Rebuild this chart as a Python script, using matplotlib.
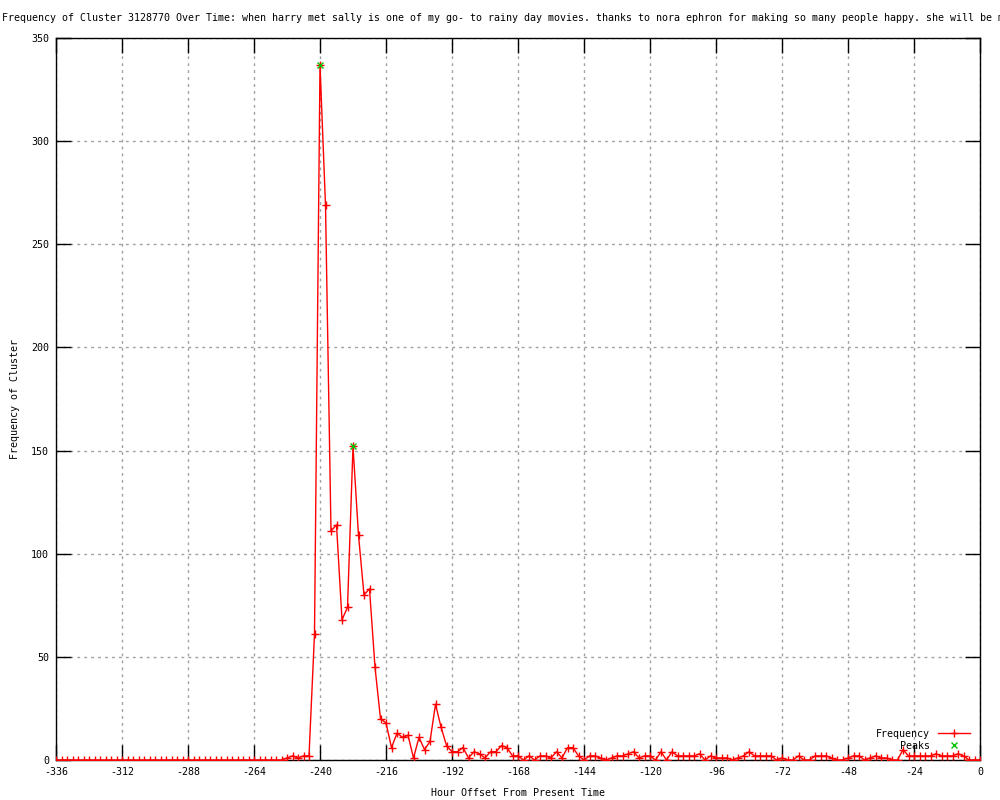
import matplotlib
matplotlib.use("Agg")
import matplotlib.pyplot as plt
import numpy as np

title = ("Frequency of Cluster 3128770 Over Time: when harry met sally is one of my go- to "
         "rainy day movies. thanks to nora ephron for making so many people happy. she will be missed.")
x_label = "Hour Offset From Present Time"
y_label = "Frequency of Cluster"

hours = list(range(-336, 1, 2))
frequency = [
    0, 0, 0, 0, 0, 0, 0, 0, 0, 0,
    0, 0, 0, 0, 0, 0, 0, 0, 0, 0,
    0, 0, 0, 0, 0, 0, 0, 0, 0, 0,
    0, 0, 0, 0, 0, 0, 0, 0, 0, 0,
    0, 0,
    1, 2, 1, 2, 2, 61, 337, 269, 111, 114,
    68, 74, 152, 109, 80, 83, 45, 20, 18, 6,
    13, 11, 12, 1, 11, 5, 9, 27, 16, 7,
    4, 4, 6, 1, 4, 3, 1, 4, 4, 7,
    6, 2, 2, 0, 2, 0, 2, 2, 1, 4,
    1, 6, 6, 2, 0, 2, 2, 1, 0, 1,
    2, 2, 3, 4, 1, 2, 2, 0, 4, 0,
    4, 2, 2, 2, 2, 3, 0, 2, 1, 1,
    1, 0, 1, 2, 4, 2, 2, 2, 2, 0,
    1, 0, 0, 2, 0, 0, 2, 2, 2, 1,
    0, 0, 1, 2, 2, 0, 1, 2, 1, 1,
    0, 0, 5, 2, 2, 2, 2, 2, 3, 2,
    2, 2, 3, 2, 0, 0, 0,
]
peak_hours = [-240, -228]
peak_values = [337, 152]

x_ticks = list(range(-336, 1, 24))
y_ticks = list(range(0, 351, 50))

plt.rcParams['font.family'] = ['DejaVu Sans Mono']
plt.rcParams['axes.unicode_minus'] = False
fs = 7.2

fig = plt.figure(figsize=(10, 8), dpi=100)
ax = fig.add_axes([0.056, 0.05, 0.924, 0.9025])

ax.plot(hours, frequency, color='#ff0000', lw=1, marker='+', ms=5.5, mew=1,
        label='Frequency', zorder=3)
ax.plot(peak_hours, peak_values, ls='none', color='#00c000', marker='x', ms=5, mew=1,
        label='Peaks', zorder=4)

ax.set_xlim(-336, 0)
ax.set_ylim(0, 350)
ax.set_xticks(x_ticks)
ax.set_yticks(y_ticks)
ax.tick_params(direction='in', length=11, width=1, top=True, right=True,
               labelsize=fs, pad=5, colors='black')
ax.grid(True, color='#a0a0a0', linestyle=(0, (2, 3)), lw=1)
for s in ax.spines.values():
    s.set_linewidth(1)
    s.set_color('black')

ax.set_xlabel(x_label, fontsize=fs, labelpad=8)
ax.set_ylabel(y_label, fontsize=fs)
ax.yaxis.set_label_coords(-0.039, 0.5)
fig.text(0.002, 0.977, title, fontsize=fs, ha='left', va='center')

leg = ax.legend(loc='lower right', bbox_to_anchor=(0.9968, 0.0028),
                markerfirst=False, frameon=False, fontsize=fs,
                handlelength=3.2, handletextpad=0.8, borderaxespad=0.3,
                labelspacing=0.2)

fig.savefig('out.png', dpi=100)
